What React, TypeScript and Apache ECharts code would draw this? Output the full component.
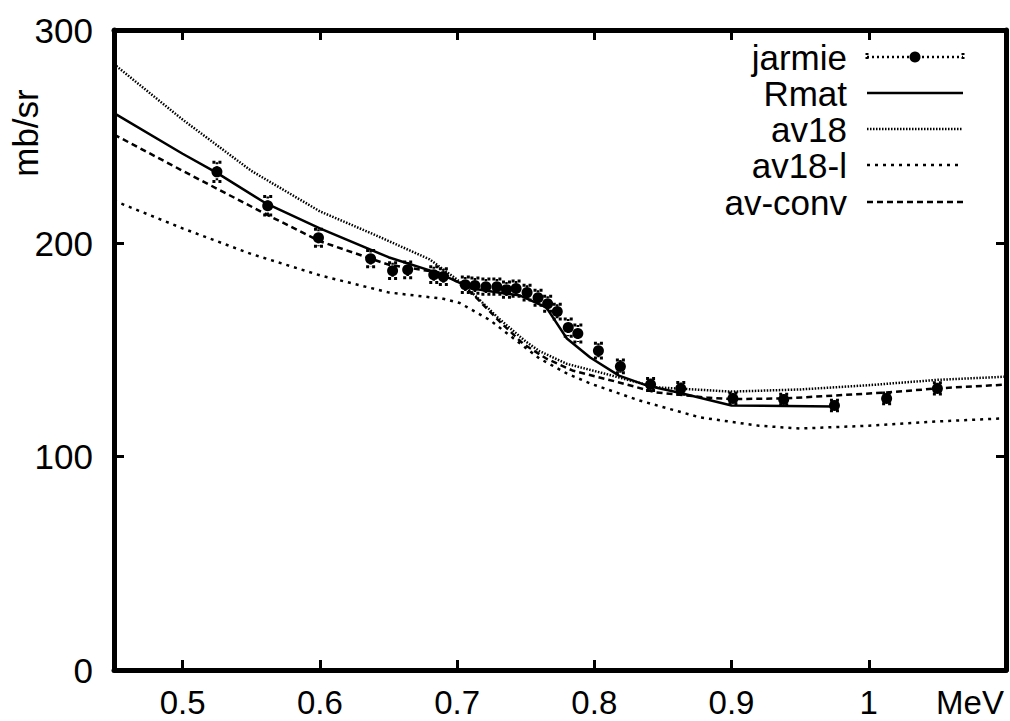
import React, { useEffect, useRef } from "react";
import * as echarts from "echarts";

// ---- data ----
const xTickValues = [0.5, 0.6, 0.7, 0.8, 0.9, 1.0];
const yTickValues = [0, 100, 200, 300];

// jarmie experimental points: energy (MeV), cross section (mb/sr), error
const jarmieX = [0.525, 0.562, 0.599, 0.637, 0.653, 0.664, 0.683, 0.69, 0.706, 0.713, 0.721, 0.729, 0.736, 0.743, 0.751, 0.759, 0.766, 0.773, 0.781, 0.788, 0.803, 0.819, 0.841, 0.863, 0.901, 0.938, 0.975, 1.013, 1.05];
const jarmieY = [233.5, 217.6, 202.6, 192.8, 187.2, 187.6, 185.3, 184.4, 180.6, 180.2, 179.7, 179.7, 178.3, 178.8, 176.9, 174.5, 171.7, 168.0, 160.5, 157.7, 149.7, 142.3, 133.8, 132.0, 127.3, 126.8, 124.0, 127.3, 132.0];
const jarmieErr = [4.5, 4.3, 4.0, 3.8, 3.7, 3.7, 3.7, 3.7, 3.6, 3.6, 3.6, 3.6, 3.6, 3.6, 3.5, 3.5, 3.5, 3.5, 4.0, 4.0, 3.5, 3.0, 2.8, 2.8, 2.5, 2.5, 2.5, 2.5, 2.6];

const rmatX = [0.45, 0.5, 0.525, 0.56, 0.6, 0.65, 0.6874, 0.711, 0.73, 0.746, 0.765, 0.78, 0.797, 0.818, 0.838, 0.862, 0.9, 0.975];
const rmatY = [261, 242, 233, 219, 207, 193.5, 185.8, 178.8, 177, 175.5, 170, 155.4, 146.5, 138, 133.4, 130, 124, 123.5];

const av18X = [0.45, 0.5, 0.55, 0.6, 0.64, 0.68, 0.7, 0.71, 0.73, 0.75, 0.76, 0.78, 0.81, 0.845, 0.9, 0.95, 1.0, 1.05, 1.1];
const av18Y = [284, 258, 234, 215, 204, 192.5, 183, 177.5, 165, 154, 149.5, 143.5, 138.5, 132.5, 130.5, 131.5, 133.5, 136, 137.5];

const av18lX = [0.45, 0.5, 0.55, 0.6, 0.65, 0.69, 0.702, 0.724, 0.748, 0.76, 0.78, 0.797, 0.833, 0.877, 0.92, 0.95, 1.0, 1.05, 1.1];
const av18lY = [220, 207, 195, 185, 177, 174, 172, 164, 152, 146, 139, 134.3, 126.3, 118.4, 114.5, 113.2, 114.5, 116.5, 118];

const avconvX = [0.45, 0.5, 0.5627, 0.6, 0.65, 0.69, 0.7, 0.711, 0.73, 0.748, 0.765, 0.784, 0.818, 0.845, 0.882, 0.9, 0.939, 1.013, 1.05, 1.1];
const avconvY = [251, 234, 213, 201, 190, 186, 182, 176.5, 164, 153, 146, 140.4, 134.8, 130.1, 127.7, 127, 127.3, 130.1, 132, 133.8];

const legendNames = ["jarmie", "Rmat", "av18", "av18-l", "av-conv"];

const FONT = "'Liberation Sans', Arial, Helvetica, sans-serif";

function zip(xs: number[], ys: number[]) {
  return xs.map((x, i) => [x, ys[i]]);
}

export default function App() {
  const ref = useRef<HTMLDivElement>(null);

  useEffect(() => {
    if (!ref.current) return;
    const chart = echarts.init(ref.current, undefined, { renderer: "svg" });

    const gridLeft = 114, gridTop = 30, gridW = 892, gridH = 640;

    const lineSeries = (name: string, data: number[][], type: any, width: number) => ({
      name,
      type: "line",
      data,
      showSymbol: false,
      symbol: "none",
      lineStyle: { color: "#000", width, type, cap: "butt", opacity: 1 },
      z: 3,
    });

    // legend graphics
    const rowY = [57, 93, 129, 165, 202];
    const textX = 847;
    const lx1 = 867, lx2 = 963;
    const legendStyles: any[] = [
      null,
      { lineWidth: 2.5, lineDash: null },
      { lineWidth: 2.5, lineDash: [1.5, 1.5] },
      { lineWidth: 2.5, lineDash: [3, 5] },
      { lineWidth: 2.5, lineDash: [6, 4] },
    ];
    const graphics: any[] = [];
    legendNames.forEach((n, i) => {
      graphics.push({
        type: "text",
        x: textX,
        y: rowY[i],
        style: { text: n, font: `35px ${FONT}`, fill: "#000", align: "right", verticalAlign: "middle" },
      });
      if (i === 0) {
        graphics.push({ type: "line", shape: { x1: lx1, y1: rowY[i], x2: lx2, y2: rowY[i] }, style: { stroke: "#000", lineWidth: 2.5, lineDash: [2, 3] } });
        graphics.push({ type: "line", shape: { x1: lx1, y1: rowY[i] - 4, x2: lx1, y2: rowY[i] + 4 }, style: { stroke: "#000", lineWidth: 3, lineDash: [2, 2] } });
        graphics.push({ type: "line", shape: { x1: lx2, y1: rowY[i] - 4, x2: lx2, y2: rowY[i] + 4 }, style: { stroke: "#000", lineWidth: 3, lineDash: [2, 2] } });
        graphics.push({ type: "circle", shape: { cx: (lx1 + lx2) / 2, cy: rowY[i], r: 5.5 }, style: { fill: "#000" } });
      } else {
        const s = legendStyles[i];
        graphics.push({ type: "line", shape: { x1: lx1, y1: rowY[i], x2: lx2, y2: rowY[i] }, style: { stroke: "#000", lineWidth: s.lineWidth, lineDash: s.lineDash } });
      }
    });
    graphics.push({
      type: "text",
      x: 25,
      y: 133,
      rotation: Math.PI / 2,
      style: { text: "mb/sr", font: `35px ${FONT}`, fill: "#000", align: "center", verticalAlign: "middle" },
    });
    graphics.push({
      type: "text",
      x: 970,
      y: 702,
      style: { text: "MeV", font: `33px ${FONT}`, fill: "#000", align: "center", verticalAlign: "middle", lineHeight: 28 },
    });

    const axisCommon = {
      type: "value",
      axisLine: { show: true, onZero: false, lineStyle: { color: "#000", width: 5 } },
      splitLine: { show: false },
    };

    const option: any = {
      animation: false,
      backgroundColor: "#fff",
      textStyle: { fontFamily: FONT },
      grid: { left: gridLeft, top: gridTop, width: gridW, height: gridH, containLabel: false },
      xAxis: [
        {
          ...axisCommon,
          position: "bottom",
          min: 0.45,
          max: 1.1,
          axisTick: { show: true, inside: true, length: 10, customValues: xTickValues, lineStyle: { color: "#000", width: 3 } },
          axisLabel: {
            show: true,
            customValues: xTickValues,
            margin: 18,
            color: "#000",
            fontSize: 33,
            lineHeight: 28,
            fontFamily: FONT,
            formatter: (v: number) => String(Math.round(v * 10) / 10),
          },
        },
        {
          ...axisCommon,
          position: "top",
          min: 0.45,
          max: 1.1,
          axisTick: { show: true, inside: true, length: 10, customValues: xTickValues, lineStyle: { color: "#000", width: 3 } },
          axisLabel: { show: false },
        },
      ],
      yAxis: [
        {
          ...axisCommon,
          position: "left",
          min: 0,
          max: 300,
          interval: 100,
          axisTick: { show: true, inside: true, length: 10, lineStyle: { color: "#000", width: 3 } },
          axisLabel: { show: true, margin: 21, color: "#000", fontSize: 35, fontFamily: FONT },
        },
        {
          ...axisCommon,
          position: "right",
          min: 0,
          max: 300,
          interval: 100,
          axisTick: { show: true, inside: true, length: 10, lineStyle: { color: "#000", width: 3 } },
          axisLabel: { show: false },
        },
      ],
      series: [
        lineSeries("av18", zip(av18X, av18Y), [1.5, 1.5], 2.5),
        lineSeries("av18-l", zip(av18lX, av18lY), [3, 5], 2.5),
        lineSeries("av-conv", zip(avconvX, avconvY), [6, 4], 2.5),
        lineSeries("Rmat", zip(rmatX, rmatY), "solid", 2.5),
        {
          name: "jarmie-err",
          type: "custom",
          data: jarmieX.map((x, i) => [x, jarmieY[i], jarmieErr[i]]),
          encode: { x: 0, y: 1 },
          z: 4,
          renderItem: (params: any, api: any) => {
            const x = api.value(0), y = api.value(1), e = api.value(2);
            const top = api.coord([x, y + e]);
            const bot = api.coord([x, y - e]);
            const hw = 4.5;
            const st = { stroke: "#000", lineWidth: 3, lineDash: [3, 3] };
            return {
              type: "group",
              children: [
                { type: "line", shape: { x1: top[0], y1: top[1], x2: bot[0], y2: bot[1] }, style: { stroke: "#000", lineWidth: 2.5, lineDash: [2, 2] } },
                { type: "line", shape: { x1: top[0] - hw, y1: top[1], x2: top[0] + hw, y2: top[1] }, style: st },
                { type: "line", shape: { x1: bot[0] - hw, y1: bot[1], x2: bot[0] + hw, y2: bot[1] }, style: st },
              ],
            };
          },
        },
        {
          name: "jarmie",
          type: "scatter",
          data: zip(jarmieX, jarmieY),
          symbol: "circle",
          symbolSize: 11,
          itemStyle: { color: "#000", opacity: 1 },
          z: 5,
        },
      ],
      graphic: graphics,
    };

    chart.setOption(option);
    return () => chart.dispose();
  }, []);

  return (
    <div
      ref={ref}
      style={{ position: "fixed", left: 0, top: 0, width: 1010, height: 721, background: "#fff" }}
    />
  );
}
